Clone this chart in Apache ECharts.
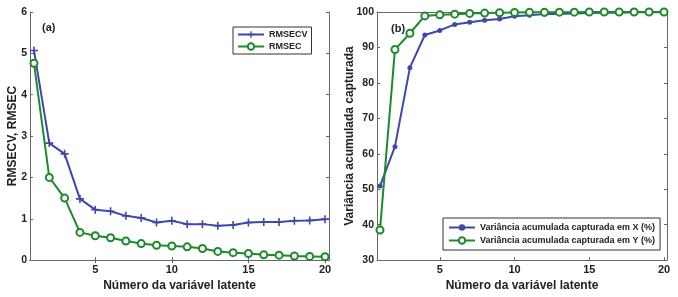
<!DOCTYPE html>
<html>
<head>
  <meta charset="UTF-8">
  <title>RMSECV / Variância</title>
  <script src="https://cdn.jsdelivr.net/npm/echarts@6/dist/echarts.min.js"></script>
</head>
<body style="margin:0">
  <div id="main" style="width:678px;height:297px;"></div>
  <script type="text/javascript">
    // dados
    var latentes = [1, 2, 3, 4, 5, 6, 7, 8, 9, 10, 11, 12, 13, 14, 15, 16, 17, 18, 19, 20];
    var rmsecv = [5.07, 2.83, 2.57, 1.48, 1.22, 1.18, 1.07, 1.02, 0.91, 0.95, 0.87, 0.87, 0.83, 0.85, 0.91, 0.92, 0.92, 0.95, 0.96, 0.99];
    var rmsec = [4.76, 2.0, 1.5, 0.67, 0.59, 0.54, 0.46, 0.40, 0.36, 0.34, 0.32, 0.28, 0.21, 0.18, 0.16, 0.13, 0.12, 0.10, 0.09, 0.08];
    var varX = [50.9, 62.0, 84.3, 93.5, 94.8, 96.5, 97.1, 97.7, 98.0, 98.8, 99.1, 99.4, 99.5, 99.6, 99.7, 99.8, 99.8, 99.9, 99.9, 99.9];
    var varY = [38.5, 89.4, 94.0, 98.9, 99.2, 99.4, 99.6, 99.7, 99.8, 99.85, 99.9, 99.9, 99.95, 99.95, 100, 100, 100, 100, 100, 100];
    var xTicks = [5, 10, 15, 20];

    var azul = '#3f48aa';
    var verde = '#1d8a2c';
    var fonte = 'Liberation Sans, Arial, sans-serif';

    function pares(ys) {
      return latentes.map(function (x, i) { return [x, ys[i]]; });
    }

    function eixoX(grid, min, max, top) {
      return {
        type: 'value', gridIndex: grid, min: min, max: max,
        position: top ? 'top' : 'bottom',
        name: top ? '' : 'Número da variável latente',
        nameLocation: 'middle', nameGap: 17,
        nameTextStyle: { fontFamily: fonte, fontWeight: 'bold', fontSize: 12, color: '#222' },
        axisLine: { lineStyle: { color: '#666' } },
        axisTick: { show: true, inside: true, length: 3, customValues: xTicks, lineStyle: { color: '#666' } },
        axisLabel: { show: !top, customValues: xTicks, margin: 4, fontFamily: fonte, fontWeight: 'bold', fontSize: 11, color: '#222' },
        splitLine: { show: false }
      };
    }

    function eixoY(grid, min, max, step, nome, right) {
      return {
        type: 'value', gridIndex: grid, min: min, max: max, interval: step,
        position: right ? 'right' : 'left',
        name: right ? '' : nome,
        nameLocation: 'middle', nameGap: right ? 0 : (grid === 0 ? 11 : 21),
        nameMoveOverlap: false,
        nameTextStyle: { fontFamily: fonte, fontWeight: 'bold', fontSize: 12, color: '#222' },
        axisLine: { show: true, lineStyle: { color: '#666' } },
        axisTick: { show: true, inside: true, length: 3, lineStyle: { color: '#666' } },
        axisLabel: { show: !right, margin: 3, fontFamily: fonte, fontWeight: 'bold', fontSize: 10.5, color: '#222' },
        splitLine: { show: false }
      };
    }

    var mais = 'path://M4,0H6V4H10V6H6V10H4V6H0V4H4Z';

    var myChart = echarts.init(document.getElementById('main'));
    var option = {
      animation: false,
      backgroundColor: '#fff',
      title: [
        { text: '(a)', left: 37, top: 17, textStyle: { fontFamily: fonte, fontWeight: 'bold', fontSize: 11, color: '#222' } },
        { text: '(b)', left: 386, top: 18, textStyle: { fontFamily: fonte, fontWeight: 'bold', fontSize: 11, color: '#222' } }
      ],
      grid: [
        { left: 30, right: 349, top: 12, bottom: 33 },
        { left: 377, right: 11, top: 12, bottom: 33 }
      ],
      legend: [
        {
          data: ['RMSECV', 'RMSEC'], orient: 'vertical', left: 233, top: 27,
          itemWidth: 26, itemHeight: 8, itemGap: 3, padding: [3, 4, 3, 4],
          borderColor: '#333', borderWidth: 1, backgroundColor: '#fff',
          textStyle: { fontFamily: fonte, fontWeight: 'bold', fontSize: 9, color: '#222' }
        },
        {
          data: ['Variância acumulada capturada em X (%)', 'Variância acumulada capturada em Y (%)'],
          orient: 'vertical', left: 443, top: 218,
          itemWidth: 26, itemHeight: 8, itemGap: 4, padding: [5, 5, 5, 5],
          borderColor: '#333', borderWidth: 1, backgroundColor: '#fff',
          textStyle: { fontFamily: fonte, fontWeight: 'bold', fontSize: 9, color: '#222' }
        }
      ],
      xAxis: [eixoX(0, 0.74, 20.26, false), eixoX(0, 0.74, 20.26, true), eixoX(1, 0.8, 20.2, false), eixoX(1, 0.8, 20.2, true)],
      yAxis: [
        eixoY(0, 0, 6, 1, 'RMSECV, RMSEC', false), eixoY(0, 0, 6, 1, '', true),
        eixoY(1, 30, 100, 10, 'Variância acumulada capturada', false), eixoY(1, 30, 100, 10, '', true)
      ],
      series: [
        {
          name: 'RMSECV', type: 'line', xAxisIndex: 0, yAxisIndex: 0, data: pares(rmsecv),
          symbol: mais, symbolSize: 8, color: azul, lineStyle: { width: 2, color: azul }
        },
        {
          name: 'RMSEC', type: 'line', xAxisIndex: 0, yAxisIndex: 0, data: pares(rmsec),
          symbol: 'emptyCircle', symbolSize: 7, color: verde,
          lineStyle: { width: 2, color: verde }, itemStyle: { borderWidth: 1.6 }
        },
        {
          name: 'Variância acumulada capturada em X (%)', type: 'line', xAxisIndex: 2, yAxisIndex: 2, data: pares(varX),
          symbol: 'circle', symbolSize: 5, color: azul, lineStyle: { width: 2, color: azul }
        },
        {
          name: 'Variância acumulada capturada em Y (%)', type: 'line', xAxisIndex: 2, yAxisIndex: 2, data: pares(varY),
          symbol: 'emptyCircle', symbolSize: 7, color: verde,
          lineStyle: { width: 2, color: verde }, itemStyle: { borderWidth: 1.6 }
        }
      ]
    };
    myChart.setOption(option);
  </script>
</body>
</html>
